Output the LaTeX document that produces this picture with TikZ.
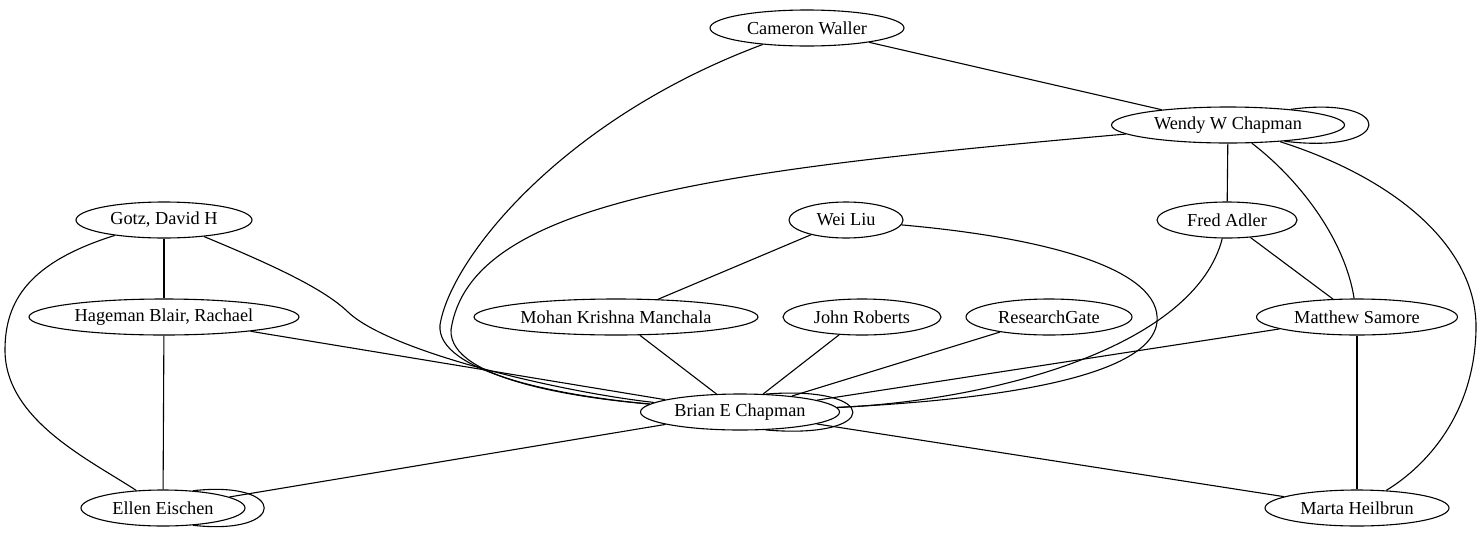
\documentclass[tikz,border=0pt]{standalone}
\usepackage{fontspec}
\setmainfont{Liberation Serif}
\usetikzlibrary{shapes.geometric}
\begin{document}
\begin{tikzpicture}[x=1pt,y=-1pt,
  nd/.style={draw,ellipse,inner sep=0pt,line width=1.1pt,minimum height=36pt,font=\fontsize{18.3}{20}\selectfont},
  ln/.style={draw,line width=1.1pt}]
\useasboundingbox (0,0) rectangle (1484,539);
\node[nd,minimum width=194pt] (cw) at (807,28) {Cameron Waller};
\node[nd,minimum width=233pt] (ww) at (1228,125) {Wendy W Chapman};
\node[nd,minimum width=176pt] (gd) at (164,220) {Gotz, David H};
\node[nd,minimum width=114pt] (wl) at (846,220) {Wei Liu};
\node[nd,minimum width=140pt] (fa) at (1227,220) {Fred Adler};
\node[nd,minimum width=270pt] (hb) at (164,317) {Hageman Blair, Rachael};
\node[nd,minimum width=284pt] (mk) at (616,317) {Mohan Krishna Manchala};
\node[nd,minimum width=158pt] (jr) at (862,317) {John Roberts};
\node[nd,minimum width=166pt] (rg) at (1049,317) {ResearchGate};
\node[nd,minimum width=201pt] (ms) at (1357,317) {Matthew Samore};
\node[nd,minimum width=199pt] (bc) at (740,412) {Brian E Chapman};
\node[nd,minimum width=164pt] (ee) at (163,508) {Ellen Eischen};
\node[nd,minimum width=184pt] (mh) at (1357,508) {Marta Heilbrun};

\path[ln] (cw) -- (ww);
\path[ln] (cw) .. controls (560,120) and (450,260) .. (440,325) .. controls (436,372) and (560,396) .. (bc);
\path[ln] (ww.14) .. controls (1396,95) and (1396,155) .. (ww.-16);
\path[ln] (ww) .. controls (720,170) and (470,200) .. (451,330) .. controls (449,380) and (580,398) .. (bc);
\path[ln] (ww) -- (fa);
\path[ln] (ww) .. controls (1300,180) and (1345,240) .. (ms);
\path[ln] (ww) .. controls (1400,180) and (1478,250) .. (1476,330) .. controls (1474,420) and (1420,470) .. (mh);
\path[ln] (gd) -- (hb);
\path[ln] (gd) .. controls (30,262) and (5,300) .. (5,350) .. controls (5,420) and (90,460) .. (ee);
\path[ln] (gd) .. controls (280,268) and (325,290) .. (348,312) .. controls (390,352) and (560,392) .. (bc);
\path[ln] (hb) -- (bc);
\path[ln] (hb) -- (ee);
\path[ln] (wl) -- (mk);
\path[ln] (wl) .. controls (1050,238) and (1162,270) .. (1157,322) .. controls (1150,385) and (950,402) .. (bc);
\path[ln] (mk) -- (bc);
\path[ln] (jr) -- (bc);
\path[ln] (rg) -- (bc);
\path[ln] (fa) -- (ms);
\path[ln] (fa) .. controls (1195,345) and (1000,400) .. (bc);
\path[ln] (ms) -- (bc);
\path[ln] (ms) -- (mh);
\path[ln] (bc.35) .. controls (882,385) and (882,440) .. (bc.-35);
\path[ln] (bc) -- (ee);
\path[ln] (bc) -- (mh);
\path[ln] (ee.30) .. controls (288,480) and (288,536) .. (ee.-30);
\end{tikzpicture}
\end{document}
